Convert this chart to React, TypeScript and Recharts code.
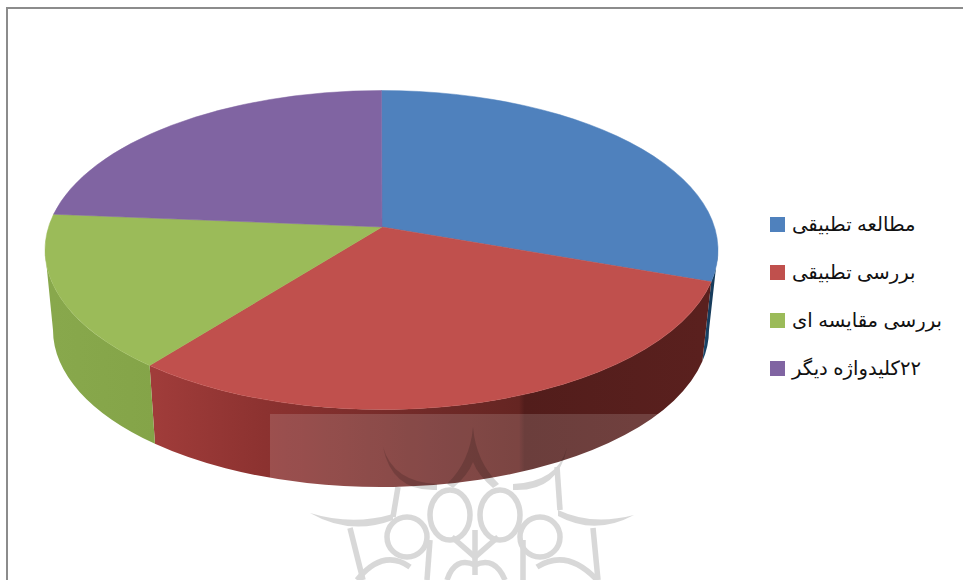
import React from 'react';
import { PieChart, Pie, Legend } from 'recharts';

const categories = ['مطالعه تطبیقی', 'بررسی تطبیقی', 'بررسی مقایسه ای', '۲۲کلیدواژه دیگر'];
const shares = [28.2, 33.9, 16.5, 21.4];
const topColors = ['#4f81bd', '#c0504d', '#9bbb59', '#8064a2'];
const wallGradients = [
  [['0%', '#1c4a70'], ['100%', '#173c5c']],
  [['0%', '#a03c3a'], ['20%', '#8c3230'], ['50%', '#702a28'], ['66.5%', '#652522'], ['67.5%', '#521d1b'], ['100%', '#5a201e']],
  [['0%', '#88a84c'], ['100%', '#84a448']],
  [['0%', '#5b4676'], ['100%', '#5b4676']],
];

const tableData = categories.map((name, i) => ({ name, value: shares[i], fill: topColors[i] }));

// the tilted disc: rim ellipse sits lower than the apex, like the perspective in the original
const RIM_DX = -0.5;
const RIM_DY = 23;
const RY_RATIO = 159.5 / 336.5;
const BASE_DX = -1;
const BASE_DY = 103;
const BASE_RX = 328;
const BASE_RY = 157;

const rad = (a: number) => (a * Math.PI) / 180;

function Sector3D(props: any) {
  const { cx, cy, outerRadius, startAngle, endAngle, index } = props;
  const ry = outerRadius * RY_RATIO;
  const ex = cx + RIM_DX;
  const ey = cy + RIM_DY;
  const bx = cx + BASE_DX;
  const by = cy + BASE_DY;
  const rimX = (t: number) => ex + outerRadius * Math.cos(rad(t));
  const rimY = (t: number) => ey - ry * Math.sin(rad(t));
  const baseX = (t: number) => bx + BASE_RX * Math.cos(rad(t));
  const baseY = (t: number) => by - BASE_RY * Math.sin(rad(t));

  const large = Math.abs(startAngle - endAngle) > 180 ? 1 : 0;
  const top = `M${cx},${cy} L${rimX(startAngle)},${rimY(startAngle)} A${outerRadius},${ry} 0 ${large} 1 ${rimX(endAngle)},${rimY(endAngle)} Z`;

  // only the front half of the wall can be seen
  const a = Math.min(startAngle, 0);
  const b = Math.max(endAngle, -180);
  const id = `wall-${index}`;
  return (
    <g>
      {a > b && (
        <>
          <defs>
            <linearGradient id={id} gradientUnits="userSpaceOnUse" x1={baseX(b)} x2={baseX(a)} y1={0} y2={0}>
              {wallGradients[index].map(([o, c]) => (
                <stop key={o} offset={o} stopColor={c} />
              ))}
            </linearGradient>
          </defs>
          <path
            d={`M${rimX(a)},${rimY(a)} A${outerRadius},${ry} 0 0 1 ${rimX(b)},${rimY(b)} L${baseX(b)},${baseY(b)} A${BASE_RX},${BASE_RY} 0 0 0 ${baseX(a)},${baseY(a)} Z`}
            fill={`url(#${id})`}
          />
        </>
      )}
      <path d={top} fill={topColors[index]} stroke={topColors[index]} strokeWidth={0.5} />
    </g>
  );
}

function LegendList({ payload }: any) {
  return (
    <div>
      {(payload || []).map((item: any) => (
        <div key={item.value} style={{ display: 'flex', alignItems: 'center', height: 48 }}>
          <span style={{ width: 15, height: 15, background: item.color, marginRight: 7, flex: 'none' }} />
          <span dir="rtl" style={{ fontFamily: 'Liberation Sans, DejaVu Sans', fontSize: 19.6, color: '#111', whiteSpace: 'nowrap' }}>
            {item.value}
          </span>
        </div>
      ))}
    </div>
  );
}

function Watermark() {
  const strokes = [
    'M398,487 L393,517',
    'M557,467 L560,510',
    'M350,528 L363,580',
    'M593,528 L598,580',
    'M357,580 Q383,548 410,567',
    'M597,580 Q567,548 537,567',
    'M430,540 L427,580',
    'M523,540 L523,580',
    'M452,537 L475,557 L498,537',
    'M475,530 L475,575',
    'M447,580 Q455,556 475,565 Q495,556 505,580',
  ];
  const spikes = [
    'M473,427 Q470,462 447,484 L453,488 Q468,475 473,462 Q478,475 493,488 L499,484 Q476,462 473,427 Z',
    'M383,447 Q393,482 437,484 L437,490 Q392,492 383,447 Z',
    'M567,448 Q557,482 513,484 L513,490 Q558,492 567,448 Z',
    'M310,513 Q352,526 393,514 L393,520 Q350,536 310,513 Z',
    'M634,515 Q592,526 558,510 L558,516 Q595,536 634,515 Z',
  ];
  const rings = [
    [450, 515, 20, 25],
    [500, 515, 20, 25],
    [407, 537, 20, 20],
    [540, 537, 20, 20],
  ];
  return (
    <svg width={963} height={580} style={{ position: 'absolute', left: 0, top: 0, pointerEvents: 'none' }}>
      <rect x={270} y={414} width={452} height={166} fill="#fff" fillOpacity={0.15} />
      <g opacity={0.15}>
        <g fill="none" stroke="#000" strokeWidth={5.5}>
          {rings.map(([x, y, rx, ry]) => (
            <ellipse key={x} cx={x} cy={y} rx={rx} ry={ry} />
          ))}
          {strokes.map((d) => (
            <path key={d} d={d} />
          ))}
        </g>
        {spikes.map((d) => (
          <path key={d} d={d} fill="#000" />
        ))}
      </g>
    </svg>
  );
}

export default function App() {
  return (
    <div style={{ position: 'absolute', left: 0, top: 0, width: 963, height: 580, overflow: 'hidden', background: '#fff' }}>
      <div style={{ position: 'absolute', left: 6, top: 7, width: 957, height: 573, borderLeft: '2px solid #8c8c8c', borderTop: '2px solid #8c8c8c', boxSizing: 'border-box' }} />
      <div style={{ position: 'absolute', left: 0, top: 0 }}>
        <PieChart width={963} height={580} margin={{ top: 0, right: 0, bottom: 0, left: 0 }}>
          <Pie
            data={tableData}
            dataKey="value"
            nameKey="name"
            cx={382}
            cy={227}
            outerRadius={336.5}
            startAngle={90}
            endAngle={-270}
            stroke="none"
            shape={Sector3D}
            isAnimationActive={false}
          />
          <Legend
            layout="vertical"
            itemSorter={null}
            content={<LegendList />}
            wrapperStyle={{ position: 'absolute', left: 770, top: 200, width: 190, bottom: 'auto' }}
          />
        </PieChart>
      </div>
      <Watermark />
    </div>
  );
}
